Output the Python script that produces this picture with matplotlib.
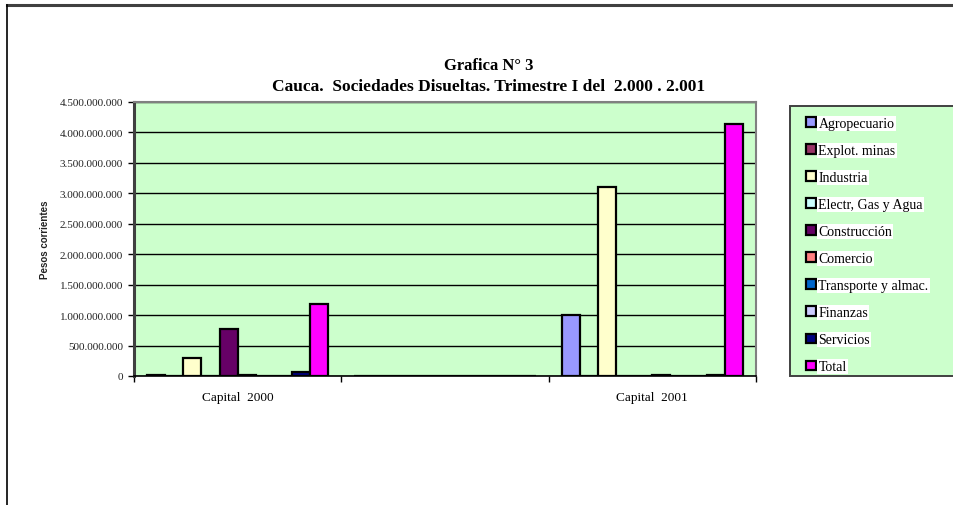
import matplotlib
matplotlib.use("Agg")
import matplotlib.pyplot as plt
import numpy as np
from matplotlib.patches import Rectangle
from matplotlib.lines import Line2D
from matplotlib.ticker import FuncFormatter, MultipleLocator

categories = ["Capital  2000", "", "Capital  2001"]
series_names = ["Agropecuario", "Explot. minas", "Industria", "Electr, Gas y Agua",
                "Construcción", "Comercio", "Transporte y almac.", "Finanzas",
                "Servicios", "Total"]
agropecuario = [15e6, 0, 1.00e9]
explot_minas = [0, 0, 0]
industria = [3.0e8, 0, 3.10e9]
electr = [0, 0, 0]
construccion = [7.7e8, 0, 0]
comercio = [1.5e7, 0, 1.5e7]
transporte = [0, 0, 0]
finanzas = [0, 0, 0]
servicios = [6.0e7, 0, 1.8e7]
total = [1.19e9, 0, 4.14e9]
values = [agropecuario, explot_minas, industria, electr, construccion,
          comercio, transporte, finanzas, servicios, total]
colors = ["#9999FF", "#993366", "#FFFFCC", "#CCFFFF", "#660066",
          "#FF8080", "#0066CC", "#CCCCFF", "#000080", "#FF00FF"]

W, H = 954, 506
fig = plt.figure(figsize=(W / 100, H / 100), dpi=100)
fig.patch.set_facecolor("white")

# outer frame lines
fig.add_artist(Line2D([7 / W, 1], [1 - 6 / H, 1 - 6 / H], color="#404040", lw=2.2,
                      transform=fig.transFigure))
fig.add_artist(Line2D([7 / W, 7 / W], [0, 1 - 6 / H], color="black", lw=1.2,
                      transform=fig.transFigure))

ax = fig.add_axes([134 / W, 1 - 377 / H, (756 - 134) / W, (377 - 103) / H])
ax.set_facecolor("#CCFFCC")

n = len(series_names)
bw = 0.875 / n
x = np.arange(len(categories))
handles = []
for i, (name, vals, c) in enumerate(zip(series_names, values, colors)):
    b = ax.bar(x + (i - (n - 1) / 2) * bw, vals, width=bw, color=c,
               edgecolor="black", linewidth=1.6, label=name, zorder=3)
    handles.append(b)

ax.set_xlim(-0.5, len(categories) - 0.5)
ax.set_ylim(0, 4.5e9)
ax.yaxis.set_major_locator(MultipleLocator(5e8))
ax.yaxis.set_major_formatter(FuncFormatter(lambda v, p: f"{int(round(v)):,}".replace(",", ".")))
ax.grid(axis="y", color="black", linewidth=1.0, zorder=1)
ax.set_axisbelow(True)

ax.set_xticks(np.arange(len(categories) + 1) - 0.5)
ax.set_xticklabels([])
ax.set_xticks(x, minor=True)
ax.set_xticklabels(categories, minor=True, fontfamily="Liberation Serif", fontsize=9.5)
ax.tick_params(axis="x", which="minor", length=0, pad=11)
ax.tick_params(axis="x", which="major", length=4.5, width=1, color="black", direction="out")
ax.tick_params(axis="y", length=4.5, width=1, color="black", direction="out",
               labelsize=8, pad=3.5)
for t in ax.get_yticklabels():
    t.set_fontfamily("Liberation Serif")
    t.set_color("#222222")

ax.spines["left"].set_color("#404040")
ax.spines["left"].set_linewidth(2.2)
ax.spines["bottom"].set_color("black")
ax.spines["bottom"].set_linewidth(1.2)
ax.spines["top"].set_color("#808080")
ax.spines["top"].set_linewidth(1.5)
ax.spines["right"].set_color("#808080")
ax.spines["right"].set_linewidth(1.5)

ax.set_ylabel("Pesos corrientes", fontfamily="Liberation Sans", fontweight="bold",
              fontsize=7, color="#222222")
ax.yaxis.set_label_coords(-84 / (756 - 134), 0.5)

# titles
fig.text(489 / W, 1 - 66 / H, "Grafica N° 3", ha="center", va="center",
         fontfamily="Liberation Serif", fontweight="bold", fontsize=12)
fig.text(489 / W, 1 - 87 / H,
         "Cauca.  Sociedades Disueltas. Trimestre I del  2.000 . 2.001",
         ha="center", va="center", fontfamily="Liberation Serif",
         fontweight="bold", fontsize=12.5)

# legend background box (extends past right edge)
fig.add_artist(Rectangle((790 / W, 1 - 377 / H), 0.5, (377 - 107) / H,
                         facecolor="#CCFFCC", edgecolor="#404040", lw=1.4,
                         transform=fig.transFigure, zorder=0))
leg = fig.legend(handles=handles, labels=series_names, loc="upper left",
                 bbox_to_anchor=(806 / W, 1 - 118 / H), frameon=False,
                 prop={"family": "Liberation Serif", "size": 10},
                 handlelength=0.7, handleheight=0.7, handletextpad=0.2,
                 labelspacing=1.01, borderaxespad=0, borderpad=0)
for t in leg.get_texts():
    t.set_bbox(dict(facecolor="white", edgecolor="none", pad=0.8))

fig.savefig("out.png", dpi=100)
